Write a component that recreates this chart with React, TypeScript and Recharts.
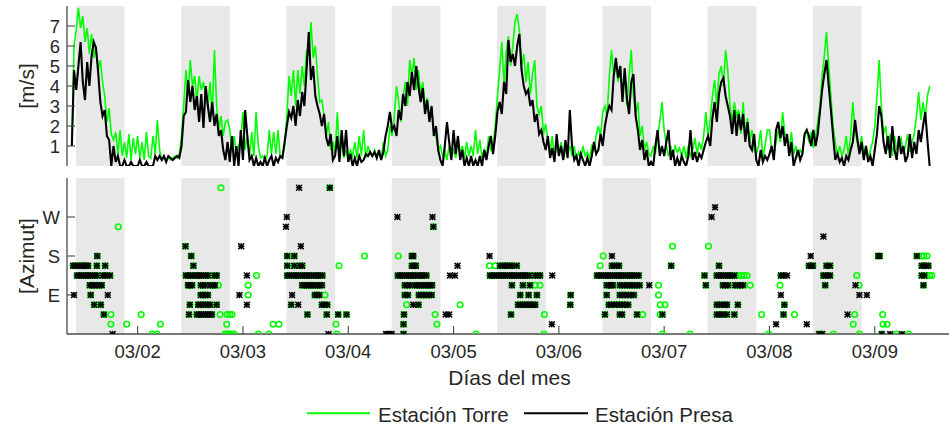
import React from 'react';
import { LineChart, Line, ScatterChart, Scatter, XAxis, YAxis, ReferenceArea, Legend } from 'recharts';

// Wind speed [m/s], 30-min samples from 03/01 09:00 (one row of 48 per day)
const SPEED_T0 = 9; // hours since 03/01 00:00
const SPEED_STEP = 0.5;

const torreSpeed = [
  1.0, 6.0, 6.8, 7.9, 6.9, 7.5, 6.2, 6.9, 5.6, 6.6, 5.4, 6.0, 4.8, 5.3, 4.2, 3.5, 2.2, 2.9, 1.6, 1.3, 1.7, 0.6, 1.8, 0.5, 1.2, 0.4, 1.6, 0.3, 1.4, 0.6, 1.5, 0.4, 1.2, 0.3, 1.7, 0.5, 0.4, 1.5, 0.6, 2.3, 0.8, 0.3, 0.4, 0.3, 0.4, 0.3, 0.4, 0.5,
  0.4, 0.6, 1.5, 3.0, 4.8, 3.5, 5.3, 4.0, 4.5, 3.2, 4.5, 3.8, 4.2, 3.5, 3.0, 4.2, 2.5, 5.8, 3.0, 1.8, 2.5, 1.5, 2.2, 2.3, 1.8, 0.8, 1.5, 0.5, 1.0, 1.3, 2.7, 0.8, 1.5, 0.5, 1.7, 0.5, 2.7, 1.0, 0.4, 0.5, 0.3, 0.5, 1.8, 0.6, 1.7, 0.6, 1.8, 0.4,
  0.5, 1.0, 2.5, 4.5, 3.5, 4.8, 3.0, 4.8, 3.6, 5.0, 4.0, 5.8, 5.5, 7.2, 5.4, 6.0, 4.5, 3.2, 3.3, 2.5, 1.5, 2.2, 0.8, 1.2, 0.6, 2.7, 0.8, 1.2, 0.4, 0.8, 0.3, 0.8, 0.5, 1.2, 0.4, 1.5, 0.5, 1.8, 0.4, 1.0, 0.6, 0.5, 0.8, 0.5, 0.7, 0.3, 1.2, 0.5,
  0.8, 2.0, 1.5, 2.5, 4.0, 3.2, 2.2, 3.5, 4.2, 3.0, 5.3, 4.5, 5.4, 3.8, 4.8, 3.6, 4.2, 3.0, 3.4, 2.4, 2.9, 1.8, 1.5, 0.8, 1.0, 0.5, 0.8, 0.3, 1.0, 0.5, 0.8, 0.4, 1.5, 0.6, 1.0, 0.4, 1.2, 0.5, 1.0, 0.5, 1.8, 0.6, 1.3, 0.4, 0.8, 0.5, 1.5, 0.8,
  1.0, 2.0, 3.5, 4.8, 6.2, 4.0, 5.7, 6.5, 5.0, 6.0, 7.2, 7.6, 6.8, 5.0, 5.6, 4.2, 5.2, 3.6, 4.6, 5.3, 3.0, 2.6, 3.0, 1.6, 2.1, 1.3, 0.7, 1.5, 0.4, 1.1, 0.5, 1.2, 0.3, 0.8, 0.6, 1.0, 0.5, 1.0, 0.3, 0.7, 0.4, 1.0, 0.5, 0.7, 0.4, 1.0, 0.8, 1.5,
  2.0, 1.5, 2.7, 3.0, 2.5, 4.5, 5.8, 4.5, 5.0, 4.2, 5.0, 3.6, 4.6, 3.0, 4.5, 5.8, 3.5, 2.6, 3.2, 1.5, 2.0, 0.8, 1.2, 0.6, 0.5, 1.0, 0.6, 1.5, 2.2, 3.2, 1.8, 1.0, 0.5, 1.0, 0.5, 1.0, 0.7, 0.9, 0.5, 1.0, 0.4, 1.0, 0.5, 0.8, 1.4, 0.6, 1.2, 0.8,
  1.5, 2.7, 1.5, 2.3, 3.5, 4.3, 3.0, 4.6, 5.0, 4.0, 5.8, 4.8, 3.0, 2.2, 3.2, 2.5, 2.8, 1.6, 3.2, 1.5, 2.4, 1.2, 1.8, 0.8, 0.6, 1.0, 1.8, 0.4, 1.0, 1.8, 1.8, 0.8, 0.5, 1.2, 1.8, 1.2, 2.7, 1.6, 1.5, 0.8, 1.7, 0.6, 1.0, 0.5, 0.8, 0.6, 1.5, 1.8,
  1.2, 1.7, 0.9, 1.5, 2.2, 3.0, 4.5, 5.5, 6.7, 5.0, 3.5, 2.0, 1.2, 0.5, 1.0, 0.5, 0.8, 1.5, 0.5, 1.5, 3.2, 1.8, 1.2, 0.8, 1.5, 0.6, 1.0, 0.4, 0.8, 1.2, 2.0, 3.5, 5.3, 3.0, 1.6, 2.0, 0.8, 1.6, 0.5, 1.5, 0.8, 1.2, 1.4, 0.6, 1.0, 1.6, 0.7, 1.2,
  1.6, 2.5, 3.7, 2.3, 3.2, 2.4, 3.5, 4.0,
];

const presaSpeed = [
  1.0, 4.8, 3.8, 5.0, 6.2, 4.2, 3.3, 5.2, 4.0, 5.5, 6.2, 5.9, 4.7, 3.2, 2.5, 2.8, 1.5, 1.3, 0.0, 1.0, 0.2, 0.5, 0.0, 0.0, 0.3, 0.0, 0.0, 0.2, 0.0, 0.0, 0.0, 0.3, 0.0, 0.0, 0.2, 0.0, 0.0, 0.0, 0.5, 0.3, 0.5, 0.3, 0.5, 0.2, 0.5, 0.4, 0.3, 0.4,
  0.5, 0.4, 1.0, 2.5, 2.7, 4.3, 3.2, 4.0, 2.8, 3.5, 2.2, 3.6, 1.9, 4.0, 3.0, 2.2, 3.2, 2.0, 2.6, 1.5, 1.8, 0.8, 0.3, 1.2, 0.2, 1.5, 0.0, 1.0, 0.0, 1.8, 0.3, 2.8, 1.5, 0.3, 0.5, 0.0, 0.4, 0.0, 0.2, 0.0, 0.4, 0.0, 0.3, 0.5, 0.0, 0.4, 0.2, 0.5,
  0.4, 1.2, 2.0, 2.7, 2.4, 3.0, 2.0, 3.3, 2.5, 3.7, 3.0, 4.8, 6.7, 4.3, 5.0, 3.5, 3.0, 2.6, 2.0, 2.6, 1.4, 1.0, 1.6, 0.3, 0.5, 1.5, 0.2, 1.8, 0.5, 1.8, 0.2, 0.6, 0.0, 0.4, 0.0, 0.5, 0.2, 0.3, 0.6, 0.5, 0.7, 0.5, 0.7, 0.4, 0.8, 0.3, 0.7, 1.5,
  2.0, 2.7, 1.8, 2.0, 1.5, 2.8, 2.3, 3.6, 3.0, 4.2, 3.5, 4.7, 3.8, 5.0, 4.0, 3.2, 3.9, 2.6, 3.3, 2.2, 3.0, 1.5, 2.0, 0.8, 0.3, 0.0, 1.0, 2.2, 1.2, 0.3, 1.8, 0.6, 1.5, 0.3, 0.8, 0.0, 0.4, 0.0, 0.5, 0.0, 0.3, 0.0, 0.5, 0.0, 0.8, 0.3, 1.0, 1.5,
  0.6, 1.5, 2.7, 3.2, 2.6, 4.2, 3.6, 6.3, 5.2, 5.6, 5.0, 6.0, 6.6, 4.8, 4.0, 3.6, 3.8, 3.0, 3.3, 2.2, 2.6, 1.6, 1.8, 1.2, 0.8, 1.5, 0.4, 0.9, 0.2, 1.6, 0.5, 1.0, 0.3, 1.3, 0.4, 2.8, 1.0, 0.3, 0.5, 0.0, 0.6, 0.3, 0.0, 0.4, 0.0, 0.5, 1.2, 0.6,
  0.8, 1.6, 1.0, 2.0, 2.6, 3.0, 2.8, 4.5, 5.4, 4.4, 5.0, 3.2, 4.9, 3.4, 2.6, 4.2, 4.6, 2.5, 1.8, 0.8, 1.3, 0.3, 0.8, 0.0, 0.2, 0.0, 1.0, 1.8, 0.5, 1.0, 0.5, 1.2, 1.8, 0.3, 0.8, 0.0, 0.4, 0.0, 0.5, 0.2, 0.0, 0.5, 1.8, 0.3, 0.7, 0.2, 0.6, 0.4,
  0.8, 1.2, 1.5, 1.0, 2.4, 3.2, 2.2, 3.6, 4.2, 4.4, 3.5, 3.0, 2.5, 1.6, 2.8, 1.5, 2.6, 1.8, 2.6, 1.2, 2.2, 1.0, 0.8, 1.6, 0.3, 0.0, 0.8, 0.2, 0.5, 0.3, 0.6, 1.0, 0.3, 1.8, 2.2, 1.4, 2.0, 1.0, 1.6, 0.5, 1.2, 0.0, 0.4, 0.8, 0.3, 0.6, 1.6, 1.8,
  1.5, 1.0, 1.8, 1.0, 1.6, 2.7, 3.8, 4.6, 5.3, 4.0, 2.8, 1.5, 0.3, 0.6, 0.2, 0.4, 0.0, 0.5, 0.3, 0.8, 1.2, 2.3, 1.4, 0.6, 1.2, 0.3, 1.0, 0.2, 0.5, 0.0, 0.8, 1.6, 3.0, 2.5, 1.2, 0.6, 1.5, 0.4, 2.0, 0.8, 0.3, 1.5, 0.6, 1.0, 0.2, 0.5, 1.6, 0.4,
  1.2, 0.6, 1.8, 1.2, 2.0, 2.7, 1.3, 0.0,
];

// Wind direction [deg], grouped by sector: [sector, sample times in hours since 03/01 00:00]
const azimuthBoth: [number, number[]][] = [
  [337.5, [67.8]],
  [247.5, [91.4]],
  [202.5, [34.9]],
  [180, [14.8, 36.2, 58.1, 59.7, 86.5, 86.8, 192.8, 193.1, 201.6]],
  [157.5, [9.3, 9.8, 10.3, 10.8, 11.3, 11.8, 12.3, 12.7, 14.7, 16.6, 36.7, 58.1, 59.7, 61.0, 61.5, 86.5, 86.9, 87.4,
    106.6, 107.2, 107.7, 108.2, 108.8, 109.3, 110.4, 132.1, 132.6, 133.2, 133.7, 145.6, 156.5, 177.0, 177.5, 177.9,
    181.0, 181.8, 202.7, 203.2, 203.7, 204.2]],
  [135, [10.2, 10.7, 11.2, 11.7, 12.2, 12.7, 13.2, 13.7, 14.2, 14.7, 16.1, 16.6, 17.1, 17.7,
    35.0, 35.5, 36.0, 36.5, 37.0, 37.5, 38.0, 38.5, 39.0, 39.5, 40.0, 41.5, 42.0,
    58.1, 58.6, 59.1, 59.6, 60.1, 60.6, 61.1, 61.6, 62.1, 62.6, 63.1, 63.6, 64.1, 64.6, 65.1, 65.6, 66.1,
    83.3, 83.8, 84.3, 84.8, 85.3, 85.8, 86.3, 86.8, 87.3, 87.8, 88.3, 88.8, 89.3, 89.8,
    104.3, 104.8, 105.3, 105.8, 106.3, 106.8, 107.3, 107.8, 108.3, 108.8, 109.3, 109.8, 110.3, 110.8, 111.3, 111.8,
    112.3, 112.8, 113.3, 114.6, 115.2, 115.7,
    128.7, 129.2, 129.7, 130.2, 130.7, 131.2, 131.7, 132.2, 132.7, 133.2, 133.7, 134.2, 134.7, 135.2, 135.7, 136.2,
    136.7, 137.2, 137.7, 138.2,
    153.2, 156.0, 156.5, 157.0, 157.5, 158.0, 158.5, 159.0, 159.5, 160.0, 170.6, 171.2,
    180.3, 180.8, 181.3, 181.8, 202.7, 203.3]],
  [112.5, [13.1, 13.6, 14.0, 14.8, 15.3, 15.8, 35.5, 35.9, 36.4, 38.4, 38.9, 39.4, 40.6, 41.1, 41.6,
    61.5, 62.0, 62.5, 63.0, 63.5, 64.0, 64.5, 65.0, 65.5, 66.0,
    84.9, 85.4, 86.1, 87.2, 87.7, 88.2, 88.7, 89.2, 89.7, 90.2, 90.7, 91.1, 109.3, 111.8, 113.4,
    130.9, 131.4, 131.9, 132.3, 133.9, 134.4, 135.0, 135.6, 136.2, 136.7, 137.2, 137.8, 138.4,
    153.5, 157.4, 157.9, 158.6, 160.2, 160.7, 161.3, 162.0, 180.7, 203.1]],
  [90, [13.3, 38.4, 38.9, 39.4, 40.0, 64.4, 64.9, 65.4, 84.9, 85.6, 88.1, 88.6, 89.2, 89.8, 90.4, 91.0,
    111.2, 113.1, 115.0, 122.7, 130.9, 133.9, 134.5, 135.1, 135.8, 136.4, 137.1]],
  [67.5, [14.1, 15.6, 35.9, 37.8, 38.3, 38.9, 39.5, 40.0, 40.5, 42.0, 59.0, 66.0, 66.5, 67.2, 88.0,
    110.7, 111.2, 111.7, 112.2, 112.7, 113.2, 113.7, 114.2, 114.6, 122.6,
    131.4, 132.0, 132.6, 133.2, 133.8, 134.4, 135.0, 135.8, 156.0, 156.6, 157.2, 157.9, 158.3, 160.8, 171.4]],
  [45, [16.3, 35.7, 37.5, 38.0, 38.5, 39.0, 39.5, 40.0, 40.5, 40.9, 62.7, 67.1, 69.7, 71.6, 84.7, 109.1,
    130.5, 133.9, 134.4, 137.8, 143.6, 156.0, 156.6, 157.4, 158.3, 160.0, 171.2]],
  [22.5, [84.6]],
  [0, [84.6, 179.3, 180.0, 193.6]],
];

const azimuthTorre: [number, number[]][] = [
  [337.5, [43.0]],
  [247.5, [19.6]],
  [202.5, [145.9, 154.1]],
  [180, [75.7, 83.4, 130.1, 202.7, 203.2, 203.9]],
  [157.5, [69.9, 104.2, 105.5, 129.4]],
  [135, [51.1, 160.8, 161.5, 162.2, 162.9, 187.9, 203.9, 204.5, 205.0]],
  [112.5, [42.4, 49.2, 114.6, 115.7, 142.7, 163.6, 170.4, 188.4]],
  [90, [49.2, 66.7, 142.7]],
  [67.5, [85.3, 97.5, 143.1, 144.2]],
  [45, [17.9, 24.8, 42.8, 44.4, 45.0, 45.5, 91.8, 116.7, 139.1, 143.1, 166.2, 173.7, 187.4, 193.8]],
  [22.5, [17.9, 21.5, 29.2, 44.3, 54.9, 56.2, 69.2, 92.2, 187.1, 193.9, 194.8]],
  [0, [27.3, 28.4, 43.9, 44.4, 44.9, 45.4, 46.0, 51.5, 53.9, 69.4, 101.1, 116.6, 143.6, 149.9, 167.8, 182.6,
    188.5, 197.0, 199.7]],
];

const azimuthPresa: [number, number[]][] = [
  [337.5, [60.8]],
  [292.5, [155.6]],
  [270, [58.0, 83.2, 91.2, 154.8]],
  [247.5, [57.8]],
  [225, [180.3]],
  [202.5, [47.6, 61.2]],
  [180, [104.2, 132.1, 177.4]],
  [157.5, [96.9]],
  [135, [48.9, 95.2, 96.3, 118.5, 172.0]],
  [112.5, [140.6, 187.6]],
  [90, [9.5, 17.2, 47.2, 59.2, 170.6, 188.5, 190.2]],
  [67.5, [48.9, 60.6, 86.8]],
  [45, [94.2, 95.0, 185.8]],
  [22.5, [118.4, 169.5, 176.5]],
  [0, [18.3, 67.5, 80.6, 81.0, 81.4, 81.9, 195.5, 198.2]],
];

// axis ticks and labels
const dayTicks = [24, 48, 72, 96, 120, 144, 168, 192];
const dayLabels = ['03/02', '03/03', '03/04', '03/05', '03/06', '03/07', '03/08', '03/09'];
const speedTicks = [1, 2, 3, 4, 5, 6, 7];
const azTicks = [90, 180, 270];
const azLabels = ['E', 'S', 'W'];

// shaded daytime window per day (hours of the day)
const shadeDays = [0, 1, 2, 3, 4, 5, 6, 7];
const DAY_FROM = 9.92;
const DAY_TO = 21.0;

const X_DOMAIN: [number, number] = [7.9, 209.6];

const TORRE = '#00ff00';
const PRESA = '#000000';
const AX = '#4a4a4a';
const INK = '#262626';
const SHADE = '#e8e8e8';
const FONT = '"Liberation Sans", Arial, Helvetica, sans-serif';
const W = 953;

const speedRows = torreSpeed.map((v, i) => ({
  t: SPEED_T0 + i * SPEED_STEP,
  torre: v,
  presa: presaSpeed[i],
}));

const toPoints = (groups: [number, number[]][]) =>
  groups.flatMap(([az, hours]) => hours.map((t) => ({ t, az })));

const torrePoints = [...toPoints(azimuthBoth), ...toPoints(azimuthTorre)];
const presaPoints = [...toPoints(azimuthBoth), ...toPoints(azimuthPresa)];

const fmtDay = (v: number) => dayLabels[dayTicks.indexOf(v)] ?? '';
const fmtAz = (v: number) => azLabels[azTicks.indexOf(v)] ?? '';

const axisLine = { stroke: AX, strokeWidth: 1.3 };
const tickLine = { stroke: AX, strokeWidth: 1.1 };
const tickFont = { fill: INK, fontSize: 18.5, fontFamily: FONT };

const YTitle = ({ text, x, y }: { text: string; x: number; y: number }) => (
  <text
    x={x}
    y={y}
    transform={`rotate(-90 ${x} ${y})`}
    textAnchor="middle"
    fill={INK}
    fontSize={21}
    fontFamily={FONT}
  >
    {text}
  </text>
);

const Ring = (p: any) => (
  <circle cx={p.cx} cy={p.cy} r={2.8} fill="none" stroke={TORRE} strokeWidth={1.6} />
);

// bold asterisk marker
const Star = (p: any) => {
  const r = 2.5;
  return (
    <g stroke={PRESA} strokeWidth={1.6} strokeLinecap="round">
      <line x1={p.cx - r} y1={p.cy - r} x2={p.cx + r} y2={p.cy + r} />
      <line x1={p.cx - r} y1={p.cy + r} x2={p.cx + r} y2={p.cy - r} />
      <line x1={p.cx} y1={p.cy - r} x2={p.cx} y2={p.cy + r} />
      <line x1={p.cx - r} y1={p.cy} x2={p.cx + r} y2={p.cy} />
    </g>
  );
};

const shading = () =>
  shadeDays.map((d) => (
    <ReferenceArea
      key={d}
      xAxisId="b"
      yAxisId="l"
      x1={d * 24 + DAY_FROM}
      x2={d * 24 + DAY_TO}
      fill={SHADE}
      fillOpacity={1}
      stroke="none"
    />
  ));

// box axes: bottom + top x, left + right y, ticks pointing inward
const boxAxes = (yDomain: [number, number], yTicks: number[], bottomProps: any, leftProps: any) => [
  <XAxis
    key="xb"
    xAxisId="b"
    dataKey="t"
    type="number"
    domain={X_DOMAIN}
    allowDataOverflow
    ticks={dayTicks}
    interval={0}
    tickSize={-8}
    axisLine={axisLine}
    tickLine={tickLine}
    {...bottomProps}
  />,
  <XAxis
    key="xt"
    xAxisId="t"
    orientation="top"
    type="number"
    domain={X_DOMAIN}
    allowDataOverflow
    ticks={dayTicks}
    interval={0}
    height={0}
    tick={false}
    tickSize={-8}
    axisLine={axisLine}
    tickLine={tickLine}
  />,
  <YAxis
    key="yl"
    yAxisId="l"
    type="number"
    domain={yDomain}
    allowDataOverflow
    ticks={yTicks}
    interval={0}
    width={67}
    tickSize={-8}
    tickMargin={15}
    axisLine={axisLine}
    tickLine={tickLine}
    tick={tickFont}
    {...leftProps}
  />,
  <YAxis
    key="yr"
    yAxisId="r"
    orientation="right"
    type="number"
    domain={yDomain}
    allowDataOverflow
    ticks={yTicks}
    interval={0}
    width={0}
    tick={false}
    tickSize={-8}
    axisLine={axisLine}
    tickLine={tickLine}
  />,
];

const LegendRow = () => (
  <svg width={W} height={38} style={{ display: 'block' }}>
    <line x1={307} x2={370} y1={21.3} y2={21.3} stroke={TORRE} strokeWidth={2} />
    <text x={378} y={29.7} fill={INK} fontSize={20.5} fontFamily={FONT}>Estación Torre</text>
    <line x1={524} x2={588} y1={21.3} y2={21.3} stroke={PRESA} strokeWidth={2} />
    <text x={595} y={29.7} fill={INK} fontSize={20.5} fontFamily={FONT}>Estación Presa</text>
  </svg>
);

export default function App() {
  return (
    <div
      style={{
        position: 'absolute',
        left: 0,
        top: 0,
        width: 949,
        height: 430,
        overflow: 'hidden',
        background: '#fff',
        fontFamily: FONT,
      }}
    >
      <div style={{ position: 'absolute', left: 0, top: 0 }}>
        <LineChart width={W} height={172} data={speedRows} margin={{ top: 6, right: 1, bottom: 6, left: 0 }}>
          {shading()}
          <Line
            xAxisId="b"
            yAxisId="l"
            dataKey="torre"
            type="linear"
            stroke={TORRE}
            strokeWidth={1.6}
            dot={false}
            activeDot={false}
            isAnimationActive={false}
          />
          <Line
            xAxisId="b"
            yAxisId="l"
            dataKey="presa"
            type="linear"
            stroke={PRESA}
            strokeWidth={2.1}
            dot={false}
            activeDot={false}
            isAnimationActive={false}
          />
          {boxAxes([0, 8], speedTicks, { height: 0, tick: false }, {
            label: <YTitle text="[m/s]" x={38} y={86} />,
          })}
        </LineChart>
      </div>
      <div style={{ position: 'absolute', left: 0, top: 172 }}>
        <ScatterChart width={W} height={258} margin={{ top: 6, right: 1, bottom: 0, left: 0 }}>
          {shading()}
          <Scatter
            name="Estación Torre"
            xAxisId="b"
            yAxisId="l"
            data={torrePoints}
            dataKey="az"
            shape={Ring}
            isAnimationActive={false}
          />
          <Scatter
            name="Estación Presa"
            xAxisId="b"
            yAxisId="l"
            data={presaPoints}
            dataKey="az"
            shape={Star}
            isAnimationActive={false}
          />
          {boxAxes(
            [0, 360],
            azTicks,
            {
              height: 58,
              tickMargin: 19,
              tick: tickFont,
              tickFormatter: fmtDay,
              label: {
                value: 'Días del mes',
                position: 'insideBottom',
                offset: 7,
                fill: INK,
                fontSize: 21,
                fontFamily: FONT,
              },
            },
            {
              dataKey: 'az',
              tickFormatter: fmtAz,
              label: <YTitle text="[Azimut]" x={36} y={85} />,
            },
          )}
          <Legend
            verticalAlign="bottom"
            align="left"
            wrapperStyle={{ left: 0, width: W, height: 38 }}
            content={() => <LegendRow />}
          />
        </ScatterChart>
      </div>
    </div>
  );
}
